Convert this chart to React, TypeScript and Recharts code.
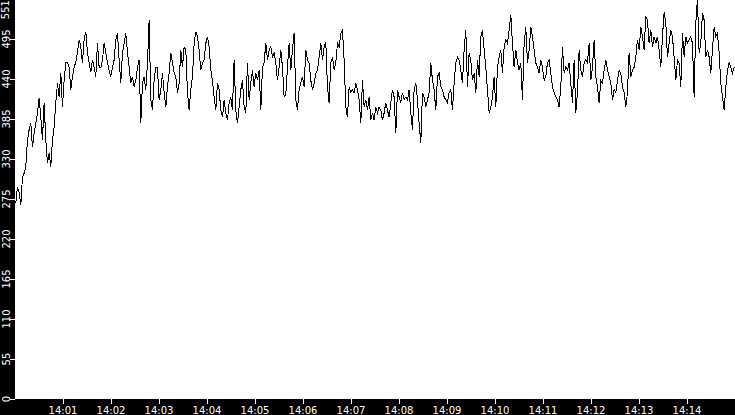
import React from 'react';
import { LineChart, Line, XAxis, YAxis, CartesianGrid } from 'recharts';

// samples, ~2.08 s apart, starting at 14:00:01
const SAMPLE_START = 1;
const SAMPLE_STEP = 25 / 12;

const seg1 = [
  270, 292, 284, 267, 306, 311, 320, 357, 371, 380, 347, 366, 380, 394, 415, 388, 357, 408, 357, 325,
  339, 320, 357, 375, 408, 435, 416, 449, 402, 439, 463, 464, 457, 426, 444, 457, 464, 477, 495, 485,
  463, 495, 506, 477, 463, 450, 467, 457, 444, 490, 457, 456, 467, 490, 477, 463, 453, 444, 457, 467,
  495, 504, 467, 435, 477, 490, 504, 477, 457, 435, 444, 430, 439, 457,
];
const seg2 = [
  467, 380, 435, 444, 426, 463, 522, 412, 398, 439, 457, 456, 412, 426, 449, 422, 402, 430, 449, 477,
  463, 449, 444, 422, 435, 481, 457, 485, 481, 422, 398, 426, 444, 490, 506, 499, 481, 453, 463, 467,
  490, 499, 485, 453, 439, 416, 398, 435, 426, 398, 388, 412, 394, 384, 408, 416, 398, 467, 398, 380,
  402, 426, 439, 402, 394, 463, 412, 435, 453, 430, 449, 439, 453, 398,
];
const seg3 = [
  457, 463, 490, 467, 481, 485, 471, 477, 463, 439, 457, 481, 457, 416, 419, 457, 490, 453, 481, 504,
  412, 398, 426, 435, 444, 430, 481, 467, 463, 439, 426, 435, 449, 453, 471, 490, 467, 485, 492, 430,
  408, 463, 471, 453, 463, 490, 485, 504, 508, 467, 402, 388, 430, 422, 426, 422, 435, 426, 412, 380,
  439, 402, 412, 398, 416, 384, 394, 384, 402, 394, 402, 398, 384,
];
const seg4 = [
  394, 408, 398, 388, 408, 426, 416, 366, 426, 416, 408, 422, 412, 416, 412, 426, 394, 371, 426, 435,
  412, 380, 353, 422, 416, 402, 412, 422, 463, 439, 426, 398, 444, 449, 430, 426, 416, 412, 408, 422,
  426, 398, 435, 463, 471, 467, 453, 435, 481, 508, 430, 477, 467, 439, 449, 422, 467, 444, 499, 508,
  481, 457, 426, 394, 402, 416, 444, 402, 457, 471, 481, 449, 485,
];
const seg5 = [
  495, 490, 508, 529, 490, 457, 481, 463, 453, 463, 412, 490, 512, 463, 481, 512, 499, 481, 463, 457,
  449, 467, 457, 439, 444, 463, 467, 449, 430, 422, 416, 412, 402, 430, 485, 449, 457, 453, 463, 435,
  408, 467, 394, 422, 481, 453, 444, 463, 467, 463, 490, 439, 457, 495, 444, 430, 408, 439, 435, 453,
  467, 453, 444, 435, 412, 426, 422, 439, 453, 449, 430, 422, 402,
];
const seg6 = [
  422, 477, 444, 453, 457, 471, 495, 481, 512, 499, 481, 526, 522, 490, 508, 485, 499, 490, 499, 481,
  457, 499, 533, 518, 471, 490, 508, 499, 471, 439, 467, 463, 430, 504, 471, 499, 490, 495, 499, 490,
  416, 518, 551, 477, 490, 532, 522, 471, 481, 471, 449, 481, 512, 499, 504, 477, 435, 416, 398, 430,
  453, 463, 457, 449, 457,
];

const xTicks = [60, 120, 180, 240, 300, 360, 420, 480, 540, 600, 660, 720, 780, 840];
const xTickLabels = ['14:01', '14:02', '14:03', '14:04', '14:05', '14:06', '14:07', '14:08', '14:09', '14:10', '14:11', '14:12', '14:13', '14:14'];
const yTicks = [0, 55.1, 110.2, 165.3, 220.4, 275.5, 330.6, 385.7, 440.8, 495.9, 551];
const yTickLabels = ['0', '55', '110', '165', '220', '275', '330', '385', '440', '495', '551'];

const values = [...seg1, ...seg2, ...seg3, ...seg4, ...seg5, ...seg6];
const data = values.map((v, i) => ({ t: SAMPLE_START + i * SAMPLE_STEP, v }));

const FONT = '"DejaVu Sans", sans-serif';
const PLOT_BOTTOM = 400;

const XTick = (props: any) => {
  const { x, index } = props;
  return (
    <g>
      <line x1={x} y1={PLOT_BOTTOM} x2={x} y2={PLOT_BOTTOM + 5} stroke="#fff" shapeRendering="crispEdges" />
      <text x={x} y={PLOT_BOTTOM + 15} textAnchor="middle" fill="#fff" fontSize={10} fontFamily={FONT}>
        {xTickLabels[index]}
      </text>
    </g>
  );
};

const YTick = (props: any) => {
  const { y, index } = props;
  const label = yTickLabels[index];
  const half = label.length * 3.2;
  const cy = Math.max(y, half + 1);
  return (
    <g>
      <line x1={10} y1={y} x2={15} y2={y} stroke="#fff" shapeRendering="crispEdges" />
      <text
        x={9.5}
        y={cy}
        transform={`rotate(-90, 9.5, ${cy})`}
        textAnchor="middle"
        fill="#fff"
        fontSize={10}
        fontFamily={FONT}
      >
        {label}
      </text>
    </g>
  );
};

export default function App() {
  return (
    <div style={{ position: 'absolute', left: 0, top: 0, width: 735, height: 415, background: '#000', overflow: 'hidden' }}>
      <div style={{ position: 'absolute', left: 0, top: -1 }}>
        <LineChart width={735} height={416} data={data} margin={{ top: 0, right: 0, bottom: 0, left: 0 }}>
          <CartesianGrid fill="#fff" horizontal={false} vertical={false} stroke="none" />
          <XAxis
            dataKey="t"
            type="number"
            domain={[0, 900]}
            ticks={xTicks}
            height={16}
            axisLine={false}
            tickLine={false}
            tick={<XTick />}
            interval={0}
          />
          <YAxis
            type="number"
            domain={[0, 551]}
            ticks={yTicks}
            width={15}
            axisLine={false}
            tickLine={false}
            tick={<YTick />}
            interval={0}
          />
          <Line
            type="linear"
            dataKey="v"
            stroke="#000"
            strokeWidth={1}
            dot={false}
            shapeRendering="crispEdges"
            isAnimationActive={false}
          />
        </LineChart>
      </div>
    </div>
  );
}
